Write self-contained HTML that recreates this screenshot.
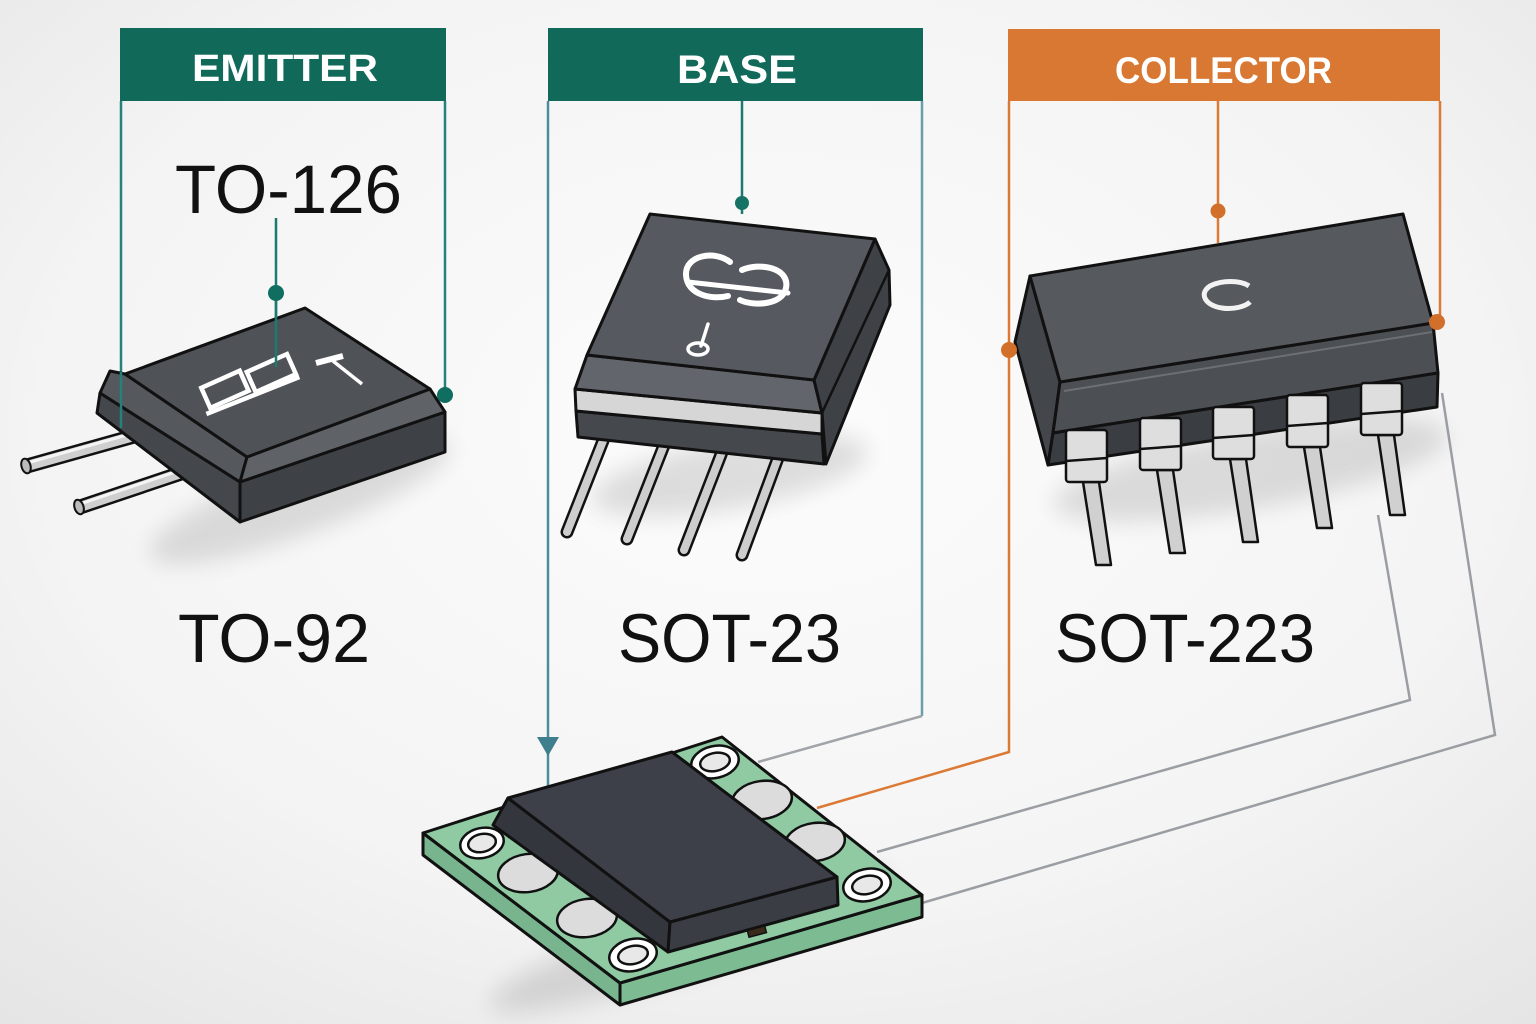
<!DOCTYPE html>
<html><head><meta charset="utf-8"><style>
html,body{margin:0;padding:0;width:1536px;height:1024px;overflow:hidden;background:#f2f2f2}
svg{display:block}
</style></head><body>
<svg width="1536" height="1024" viewBox="0 0 1536 1024" xmlns="http://www.w3.org/2000/svg">
<defs>
<radialGradient id="bg" cx="50%" cy="42%" r="78%"><stop offset="0" stop-color="#fcfcfc"/><stop offset="0.6" stop-color="#f4f4f4"/><stop offset="1" stop-color="#e4e4e4"/></radialGradient>
<filter id="blur" x="-30%" y="-30%" width="160%" height="160%"><feGaussianBlur stdDeviation="12"/></filter>
</defs>
<rect width="1536" height="1024" fill="url(#bg)"/>

<!-- shadows -->
<g filter="url(#blur)" fill="#000" opacity="0.12">
<ellipse cx="300" cy="500" rx="160" ry="34" transform="rotate(-20 300 500)"/>
<ellipse cx="730" cy="475" rx="140" ry="34" transform="rotate(-10 730 475)"/>
<ellipse cx="1250" cy="470" rx="200" ry="38" transform="rotate(-10 1250 470)"/>
<ellipse cx="690" cy="940" rx="210" ry="32" transform="rotate(-18 690 940)"/>
</g>

<!-- headers -->
<rect x="120" y="28" width="326" height="73" fill="#11695a"/>
<text x="192" y="81" font-family="Liberation Sans, sans-serif" font-weight="bold" font-size="38" fill="#fff" textLength="186" lengthAdjust="spacingAndGlyphs">EMITTER</text>
<rect x="548" y="28" width="375" height="73" fill="#11695a"/>
<text x="677" y="83" font-family="Liberation Sans, sans-serif" font-weight="bold" font-size="40" fill="#fff" textLength="120" lengthAdjust="spacingAndGlyphs">BASE</text>
<rect x="1008" y="29" width="432" height="72" fill="#d97832"/>
<text x="1115" y="83" font-family="Liberation Sans, sans-serif" font-weight="bold" font-size="37" fill="#fff" textLength="217" lengthAdjust="spacingAndGlyphs">COLLECTOR</text>

<!-- connector lines -->
<g fill="none" stroke-width="2.5">
<line x1="121" y1="101" x2="121" y2="428" stroke="#23837c"/>
<line x1="445" y1="101" x2="445" y2="395" stroke="#23837c"/>
<line x1="276" y1="218" x2="276" y2="367" stroke="#1d7a70"/>
<line x1="742" y1="101" x2="742" y2="214" stroke="#1d7a70"/>
<line x1="548" y1="101" x2="548" y2="790" stroke="#4d8c9a"/>
<polyline points="922,101 922,716" stroke="#6a9eaa"/>
<polyline points="922,716 758,762" stroke="#a0a4a8"/>
<line x1="1218" y1="101" x2="1218" y2="243" stroke="#dc7a35"/>
<polyline points="1009,101 1009,752 817,808" stroke="#dc7a35"/>
<line x1="1440" y1="101" x2="1440" y2="322" stroke="#dc7a35"/>
<polyline points="1378,515 1410,700 877,852" stroke="#9a9ea3"/>
<polyline points="1442,393 1495,735 922,903" stroke="#9a9ea3"/>
</g>
<polygon points="537,737 559,737 548,756" fill="#3f7e8d"/>

<!-- labels -->
<g font-family="Liberation Sans, sans-serif" font-size="69" fill="#111">
<text x="175" y="213" textLength="227" lengthAdjust="spacingAndGlyphs">TO-126</text>
<text x="178" y="662" textLength="192" lengthAdjust="spacingAndGlyphs">TO-92</text>
<text x="618" y="662" textLength="223" lengthAdjust="spacingAndGlyphs">SOT-23</text>
<text x="1055" y="662" textLength="260" lengthAdjust="spacingAndGlyphs">SOT-223</text>
</g>

<!-- TO-126 pins -->
<g stroke-linecap="butt" fill="none">
<line x1="152" y1="431" x2="27" y2="466" stroke="#111" stroke-width="15"/>
<line x1="152" y1="431" x2="27" y2="466" stroke="#cfcfcf" stroke-width="10"/>
<line x1="152" y1="428" x2="27" y2="463" stroke="#f4f4f4" stroke-width="3"/>
<line x1="208" y1="464" x2="80" y2="507" stroke="#111" stroke-width="15"/>
<line x1="208" y1="464" x2="80" y2="507" stroke="#cfcfcf" stroke-width="10"/>
<line x1="208" y1="461" x2="80" y2="504" stroke="#f4f4f4" stroke-width="3"/>
</g>
<ellipse cx="26" cy="466" rx="4.5" ry="7.5" fill="#bbb" stroke="#111" stroke-width="2" transform="rotate(-16 26 466)"/>
<ellipse cx="79" cy="507" rx="4.5" ry="7.5" fill="#bbb" stroke="#111" stroke-width="2" transform="rotate(-18 79 507)"/>
<!-- TO-126 body -->
<g stroke="#111" stroke-width="3" stroke-linejoin="round">
<polygon points="100,393 240,482 240,522 97,413" fill="#44474c"/>
<polygon points="110,371 125,374 247,457 240,482 100,393" fill="#55585d"/>
<polygon points="240,482 445,412 445,452 240,522" fill="#3e4146"/>
<polygon points="247,457 430,389 445,412 240,482" fill="#5f6267"/>
<polygon points="125,374 305,308 430,389 247,457" fill="#4f5257"/>
</g>
<g stroke="#fff" stroke-width="4.5" fill="none" transform="rotate(-24 255 388)">
<rect x="206" y="366" width="42" height="22"/>
<rect x="254" y="370" width="44" height="22"/>
<line x1="200" y1="392" x2="300" y2="396"/>
</g>
<line x1="316" y1="363" x2="343" y2="356" stroke="#fff" stroke-width="6"/>
<line x1="333" y1="361" x2="362" y2="384" stroke="#fff" stroke-width="3.5"/>
<line x1="121" y1="372" x2="121" y2="428" stroke="#23837c" stroke-width="2.5"/>
<line x1="276" y1="300" x2="276" y2="367" stroke="#1d7a70" stroke-width="2.5"/>
<circle cx="276" cy="293" r="8" fill="#0f6e60"/>
<circle cx="445" cy="395" r="8" fill="#0f6e60"/>

<!-- SOT-23 upper chip legs -->
<g stroke-linecap="round" fill="none">
<line x1="612" y1="418" x2="567" y2="532" stroke="#111" stroke-width="13"/>
<line x1="612" y1="418" x2="567" y2="532" stroke="#cdcdcd" stroke-width="8"/>
<line x1="672" y1="425" x2="627" y2="539" stroke="#111" stroke-width="13"/>
<line x1="672" y1="425" x2="627" y2="539" stroke="#cdcdcd" stroke-width="8"/>
<line x1="729" y1="434" x2="684" y2="550" stroke="#111" stroke-width="13"/>
<line x1="729" y1="434" x2="684" y2="550" stroke="#cdcdcd" stroke-width="8"/>
<line x1="785" y1="439" x2="742" y2="555" stroke="#111" stroke-width="13"/>
<line x1="785" y1="439" x2="742" y2="555" stroke="#cdcdcd" stroke-width="8"/>
</g>
<g stroke="#111" stroke-width="3" stroke-linejoin="round">
<polygon points="576,411 822,434 824,464 578,437" fill="#45484d"/>
<polygon points="575,389 822,413 822,434 576,411" fill="#d6d6d6"/>
<polygon points="587,355 814,380 822,413 575,389" fill="#62666c"/>
<polygon points="875,239 889,270 890,305 826,464 822,413 814,380" fill="#3e4146"/>
<polygon points="650,214 875,239 814,380 587,355" fill="#565a60"/>
</g>
<line x1="889" y1="270" x2="822" y2="413" stroke="#111" stroke-width="2.5"/>
<g stroke="#fff" stroke-width="6" fill="none" stroke-linecap="round">
<path d="M730,262 C715,250 685,255 686,275 C687,295 712,300 728,296"/>
<path d="M742,270 C760,262 790,268 786,288 C782,306 752,306 740,300"/>
<line x1="688" y1="282" x2="788" y2="293" stroke-width="5"/>
<line x1="708" y1="324" x2="701" y2="346" stroke-width="3.5"/>
</g>
<ellipse cx="698" cy="349" rx="10" ry="6" fill="none" stroke="#fff" stroke-width="3.5"/>
<circle cx="742" cy="203" r="7" fill="#177266"/>

<!-- SOT-223 chip -->
<g stroke="#111" stroke-width="3" stroke-linejoin="round">
<polygon points="1030,276 1015,342 1048,465 1053,433 1060,382" fill="#43464b"/>
<polygon points="1060,382 1433,323 1438,373 1053,433" fill="#4c4f54"/>
<polygon points="1053,433 1438,373 1437,407 1048,465" fill="#3a3d42"/>
<polygon points="1030,276 1403,214 1433,323 1060,382" fill="#56595e"/>
</g>
<line x1="1064" y1="391" x2="1432" y2="332" stroke="#6c6f74" stroke-width="2"/>
<path d="M1249,286 C1240,280 1222,280 1210,286 C1198,294 1206,306 1222,308 C1234,310 1246,306 1250,302" fill="none" stroke="#f2f2f2" stroke-width="5"/>
<g stroke="#111" stroke-width="2.5" stroke-linejoin="round">
<polygon points="1083,482 1099,482 1111,565 1096,565" fill="#d0d0d0"/>
<rect x="1066" y="430" width="41" height="52" rx="3" fill="#dedede"/>
<line x1="1066" y1="461" x2="1107" y2="458"/>
<polygon points="1157,470 1173,470 1185,553 1170,553" fill="#d0d0d0"/>
<rect x="1140" y="418" width="41" height="52" rx="3" fill="#dedede"/>
<line x1="1140" y1="449" x2="1181" y2="446"/>
<polygon points="1230,459 1246,459 1258,542 1243,542" fill="#d0d0d0"/>
<rect x="1213" y="407" width="41" height="52" rx="3" fill="#dedede"/>
<line x1="1213" y1="438" x2="1254" y2="435"/>
<polygon points="1304,447 1320,447 1332,528 1317,528" fill="#d0d0d0"/>
<rect x="1287" y="395" width="41" height="52" rx="3" fill="#dedede"/>
<line x1="1287" y1="426" x2="1328" y2="423"/>
<polygon points="1378,435 1394,435 1405,515 1390,515" fill="#d0d0d0"/>
<rect x="1361" y="383" width="41" height="52" rx="3" fill="#dedede"/>
<line x1="1361" y1="414" x2="1402" y2="411"/>
</g>
<circle cx="1218" cy="211" r="7.5" fill="#d26f2a"/>
<circle cx="1009" cy="350" r="8" fill="#d26f2a"/>
<circle cx="1437" cy="322" r="8" fill="#d26f2a"/>

<!-- bottom board -->
<g stroke="#111" stroke-width="3" stroke-linejoin="round">
<polygon points="423,833 620,983 620,1005 423,855" fill="#78b48d"/>
<polygon points="620,983 922,895 922,917 620,1005" fill="#7dbb92"/>
<polygon points="423,833 722,737 922,895 620,983" fill="#8fcaa3"/>
</g>
<g stroke="#111" stroke-width="2.5">
<ellipse cx="715" cy="762" rx="24" ry="16" fill="#fff" transform="rotate(-12 715 762)"/>
<ellipse cx="715" cy="762" rx="15" ry="9" fill="#e8e8e8" transform="rotate(-12 715 762)"/>
<ellipse cx="867" cy="885" rx="24" ry="16" fill="#fff" transform="rotate(-12 867 885)"/>
<ellipse cx="867" cy="885" rx="15" ry="9" fill="#e8e8e8" transform="rotate(-12 867 885)"/>
<ellipse cx="482" cy="843" rx="22" ry="15" fill="#fff" transform="rotate(-12 482 843)"/>
<ellipse cx="482" cy="843" rx="14" ry="9" fill="#e8e8e8" transform="rotate(-12 482 843)"/>
<ellipse cx="633" cy="955" rx="24" ry="16" fill="#fff" transform="rotate(-12 633 955)"/>
<ellipse cx="633" cy="955" rx="15" ry="9" fill="#e8e8e8" transform="rotate(-12 633 955)"/>
<ellipse cx="762" cy="800" rx="30" ry="19" fill="#dcdcdc" transform="rotate(-8 762 800)"/>
<ellipse cx="815" cy="842" rx="30" ry="19" fill="#dcdcdc" transform="rotate(-8 815 842)"/>
<ellipse cx="528" cy="873" rx="30" ry="19" fill="#dcdcdc" transform="rotate(-8 528 873)"/>
<ellipse cx="587" cy="918" rx="30" ry="19" fill="#dcdcdc" transform="rotate(-8 587 918)"/>
</g>
<g stroke="#111" stroke-width="3" stroke-linejoin="round">
<polygon points="493,825 508,798 670,922 668,952" fill="#33363d"/>
<polygon points="670,922 837,877 838,905 668,952" fill="#3a3d44"/>
<polygon points="508,798 672,752 837,877 670,922" fill="#3d4048"/>
</g>
<rect x="748" y="928" width="18" height="7" fill="#3a2a1a" stroke="#111" stroke-width="1.5" transform="rotate(-15 757 932)"/>
</svg>
</body></html>
